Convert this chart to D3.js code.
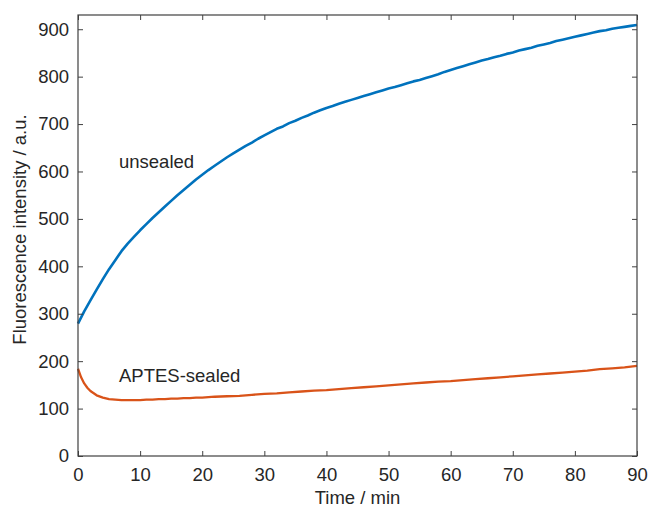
<!DOCTYPE html>
<html>
<head>
<meta charset="utf-8">
<script src="https://d3js.org/d3.v7.min.js"></script>
<style>
  body { margin: 0; background: #fff; }
  svg text { font-family: "Liberation Sans", Arial, Helvetica, sans-serif; fill: #262626; }
</style>
</head>
<body>
<svg id="chart" width="649" height="509"></svg>
<script>
// unsealed (blue), 1-min readings
var unsealedTime = d3.range(0, 91);
var unsealedValue = [
  279, 305, 328, 351, 373, 394, 413, 432, 448, 462,
  476, 489, 502, 514, 526, 538, 550, 561, 572, 583,
  593, 603, 612, 621, 630, 638, 646, 654, 661, 669,
  676, 683, 690, 695, 702, 707, 713, 718, 724, 729,
  734, 738, 743, 747, 751, 755, 759, 763, 767, 771,
  775, 778, 782, 786, 790, 793, 797, 801, 805, 810,
  814, 818, 822, 826, 830, 834, 837, 841, 844, 848,
  851, 855, 858, 861, 865, 868, 871, 875, 878, 881,
  884, 887, 890, 893, 896, 898, 901, 903, 905, 907, 909
];

// APTES-sealed (orange)
var sealedTime = [0, 0.5, 1, 1.5, 2, 3, 4, 5, 6, 7, 8, 9, 10, 11, 12, 13, 14, 15, 16, 17, 18, 19, 20,
  22, 24, 26, 28, 30, 32, 34, 36, 38, 40, 42, 44, 46, 48, 50, 52, 54, 56, 58, 60,
  62, 64, 66, 68, 70, 72, 74, 76, 78, 80, 82, 84, 86, 88, 90];
var sealedValue = [184, 166, 153, 144, 137, 128, 123, 120, 119, 118, 118, 118, 118, 119, 119, 120, 120, 121, 121, 122, 122, 123, 123,
  125, 126, 127, 129, 131, 132, 134, 136, 138, 139, 141, 143, 145, 147, 149, 151, 153, 155, 157, 158,
  160, 162, 164, 166, 168, 170, 172, 174, 176, 178, 180, 183, 185, 187, 190];

var xTicks = [0, 10, 20, 30, 40, 50, 60, 70, 80, 90];
var yTicks = [0, 100, 200, 300, 400, 500, 600, 700, 800, 900];

var margin = { left: 78, top: 15, right: 12, bottom: 53 };
var W = 649, H = 509;
var svg = d3.select('#chart');

var x = d3.scaleLinear().domain([0, 90]).range([margin.left, W - margin.right]);
var y = d3.scaleLinear().domain([0, 930]).range([H - margin.bottom, margin.top]);

var axisColor = '#404040';

// data lines first, frame on top
var line = d3.line()
  .x(function(d) { return x(d[0]); })
  .y(function(d) { return y(d[1]); });

svg.append('path')
  .datum(d3.zip(unsealedTime, unsealedValue))
  .attr('d', line)
  .attr('fill', 'none')
  .attr('stroke', '#0072BD')
  .attr('stroke-width', 2.6)
  .attr('stroke-linejoin', 'round');

svg.append('path')
  .datum(d3.zip(sealedTime, sealedValue))
  .attr('d', line)
  .attr('fill', 'none')
  .attr('stroke', '#D95319')
  .attr('stroke-width', 2.3)
  .attr('stroke-linejoin', 'round');

function styleAxis(g) {
  g.select('.domain').remove();
  g.selectAll('.tick line').attr('stroke', axisColor);
  g.selectAll('.tick text')
    .style('font-size', '18.5px')
    .attr('fill', '#262626');
}

// bottom axis with labels, ticks inward
svg.append('g')
  .attr('transform', 'translate(0,' + y(0) + ')')
  .call(d3.axisBottom(x).tickValues(xTicks).tickSize(-5).tickPadding(12))
  .call(styleAxis);

svg.append('g')
  .attr('transform', 'translate(' + x(0) + ',0)')
  .call(d3.axisLeft(y).tickValues(yTicks).tickSize(-5).tickPadding(9))
  .call(styleAxis);

// top and right mirror ticks
svg.append('g')
  .attr('transform', 'translate(0,' + y(930) + ')')
  .call(d3.axisTop(x).tickValues(xTicks).tickSize(-5).tickFormat(''))
  .call(styleAxis);

svg.append('g')
  .attr('transform', 'translate(' + x(90) + ',0)')
  .call(d3.axisRight(y).tickValues(yTicks).tickSize(-5).tickFormat(''))
  .call(styleAxis);

// box
svg.append('rect')
  .attr('x', x(0)).attr('y', y(930))
  .attr('width', x(90) - x(0)).attr('height', y(0) - y(930))
  .attr('fill', 'none')
  .attr('stroke', axisColor)
  .attr('stroke-width', 1.2);

// axis titles
svg.append('text')
  .attr('x', (x(0) + x(90)) / 2)
  .attr('y', 504)
  .attr('text-anchor', 'middle')
  .style('font-size', '18.5px')
  .text('Time / min');

svg.append('text')
  .attr('transform', 'translate(26,' + ((y(0) + y(930)) / 2 - 6) + ') rotate(-90)')
  .attr('text-anchor', 'middle')
  .style('font-size', '18.5px')
  .text('Fluorescence intensity / a.u.');

// curve labels
svg.append('text')
  .attr('x', 119).attr('y', 168)
  .style('font-size', '18.5px')
  .text('unsealed');

svg.append('text')
  .attr('x', 119).attr('y', 382)
  .style('font-size', '18.5px')
  .text('APTES-sealed');
</script>
</body>
</html>
